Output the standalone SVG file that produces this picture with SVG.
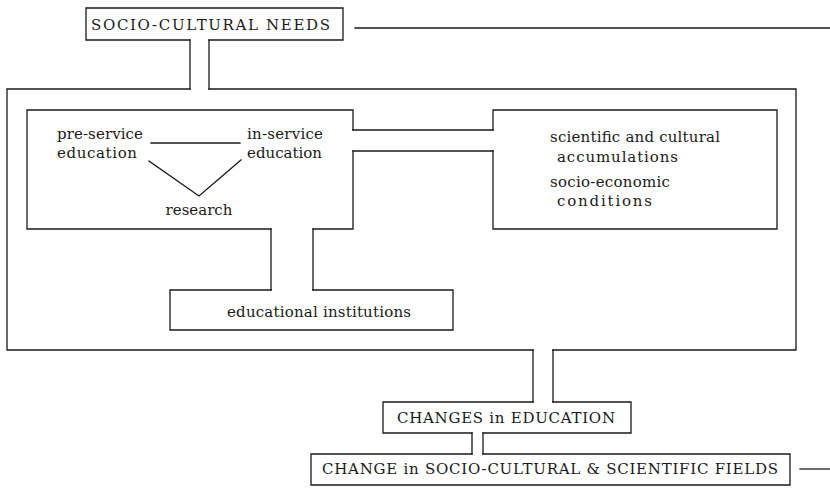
<svg xmlns="http://www.w3.org/2000/svg" width="830" height="496" viewBox="0 0 830 496">
<style>
.ln{fill:none;stroke:#1a1a1a;stroke-width:1.3;stroke-linecap:square}
text{fill:#1a1a1a}
.t{font-size:15px}
.c{font-size:15px}
</style>
<rect width="830" height="496" fill="#fff"/>
<g font-family="DejaVu Serif, serif">
<g id="needs">
<path class="ln" d="M190,40 H86 V8 H343 V40 H209"/>
<text class="c" x="91" y="30" textLength="239" lengthAdjust="spacing">SOCIO-CULTURAL  NEEDS</text>
</g>
<g id="frame">
<path class="ln" d="M190,89 H7 V350 H533 M553,350 H796 V89 H209"/>
</g>
<g id="education-box">
<path class="ln" d="M353,130 V110 H27 V229 H271 M313,229 H353 V151"/>
<text class="t" x="57" y="139" textLength="86" lengthAdjust="spacing">pre-service</text>
<text class="t" x="57" y="158" textLength="80" lengthAdjust="spacing">education</text>
<text class="t" x="247" y="139" textLength="76" lengthAdjust="spacing">in-service</text>
<text class="t" x="247" y="158" textLength="75" lengthAdjust="spacing">education</text>
<line class="ln" x1="151" y1="143" x2="240" y2="143"/>
<polyline class="ln" points="149,161 199,196 241,160"/>
<text class="t" x="199" y="215" text-anchor="middle">research</text>
</g>
<g id="conditions-box">
<path class="ln" d="M493,130 V110 H777 V229 H493 V151"/>
<text class="t" x="550" y="142" textLength="170" lengthAdjust="spacing">scientific and cultural</text>
<text class="t" x="557" y="162" textLength="121" lengthAdjust="spacing">accumulations</text>
<text class="t" x="550" y="187" textLength="120" lengthAdjust="spacing">socio-economic</text>
<text class="t" x="557" y="206" textLength="95" lengthAdjust="spacing">conditions</text>
</g>
<g id="institutions">
<path class="ln" d="M271,290 H170 V330 H453 V290 H313"/>
<text class="t" x="227" y="317" textLength="184" lengthAdjust="spacing">educational institutions</text>
</g>
<g id="changes-education">
<path class="ln" d="M533,402 H383 V433 H472 M483,433 H631 V402 H553"/>
<text class="c" x="397" y="423" textLength="218" lengthAdjust="spacing">CHANGES in EDUCATION</text>
</g>
<g id="change-fields">
<path class="ln" d="M472,454 H311 V485 H790 V454 H483"/>
<text class="c" x="322" y="474" textLength="456" lengthAdjust="spacing">CHANGE in SOCIO-CULTURAL &amp; SCIENTIFIC FIELDS</text>
</g>
</g>
<g id="connectors">
<path class="ln" d="M190,40 V89 M209,40 V89"/>
<path class="ln" d="M353,130 H493 M353,151 H493"/>
<path class="ln" d="M271,229 V290 M313,229 V290"/>
<path class="ln" d="M533,350 V402 M553,350 V402"/>
<path class="ln" d="M472,433 V454 M483,433 V454"/>
<path class="ln" d="M355,28 H830"/>
<path class="ln" d="M800,469 H830"/>
</g>
</svg>
